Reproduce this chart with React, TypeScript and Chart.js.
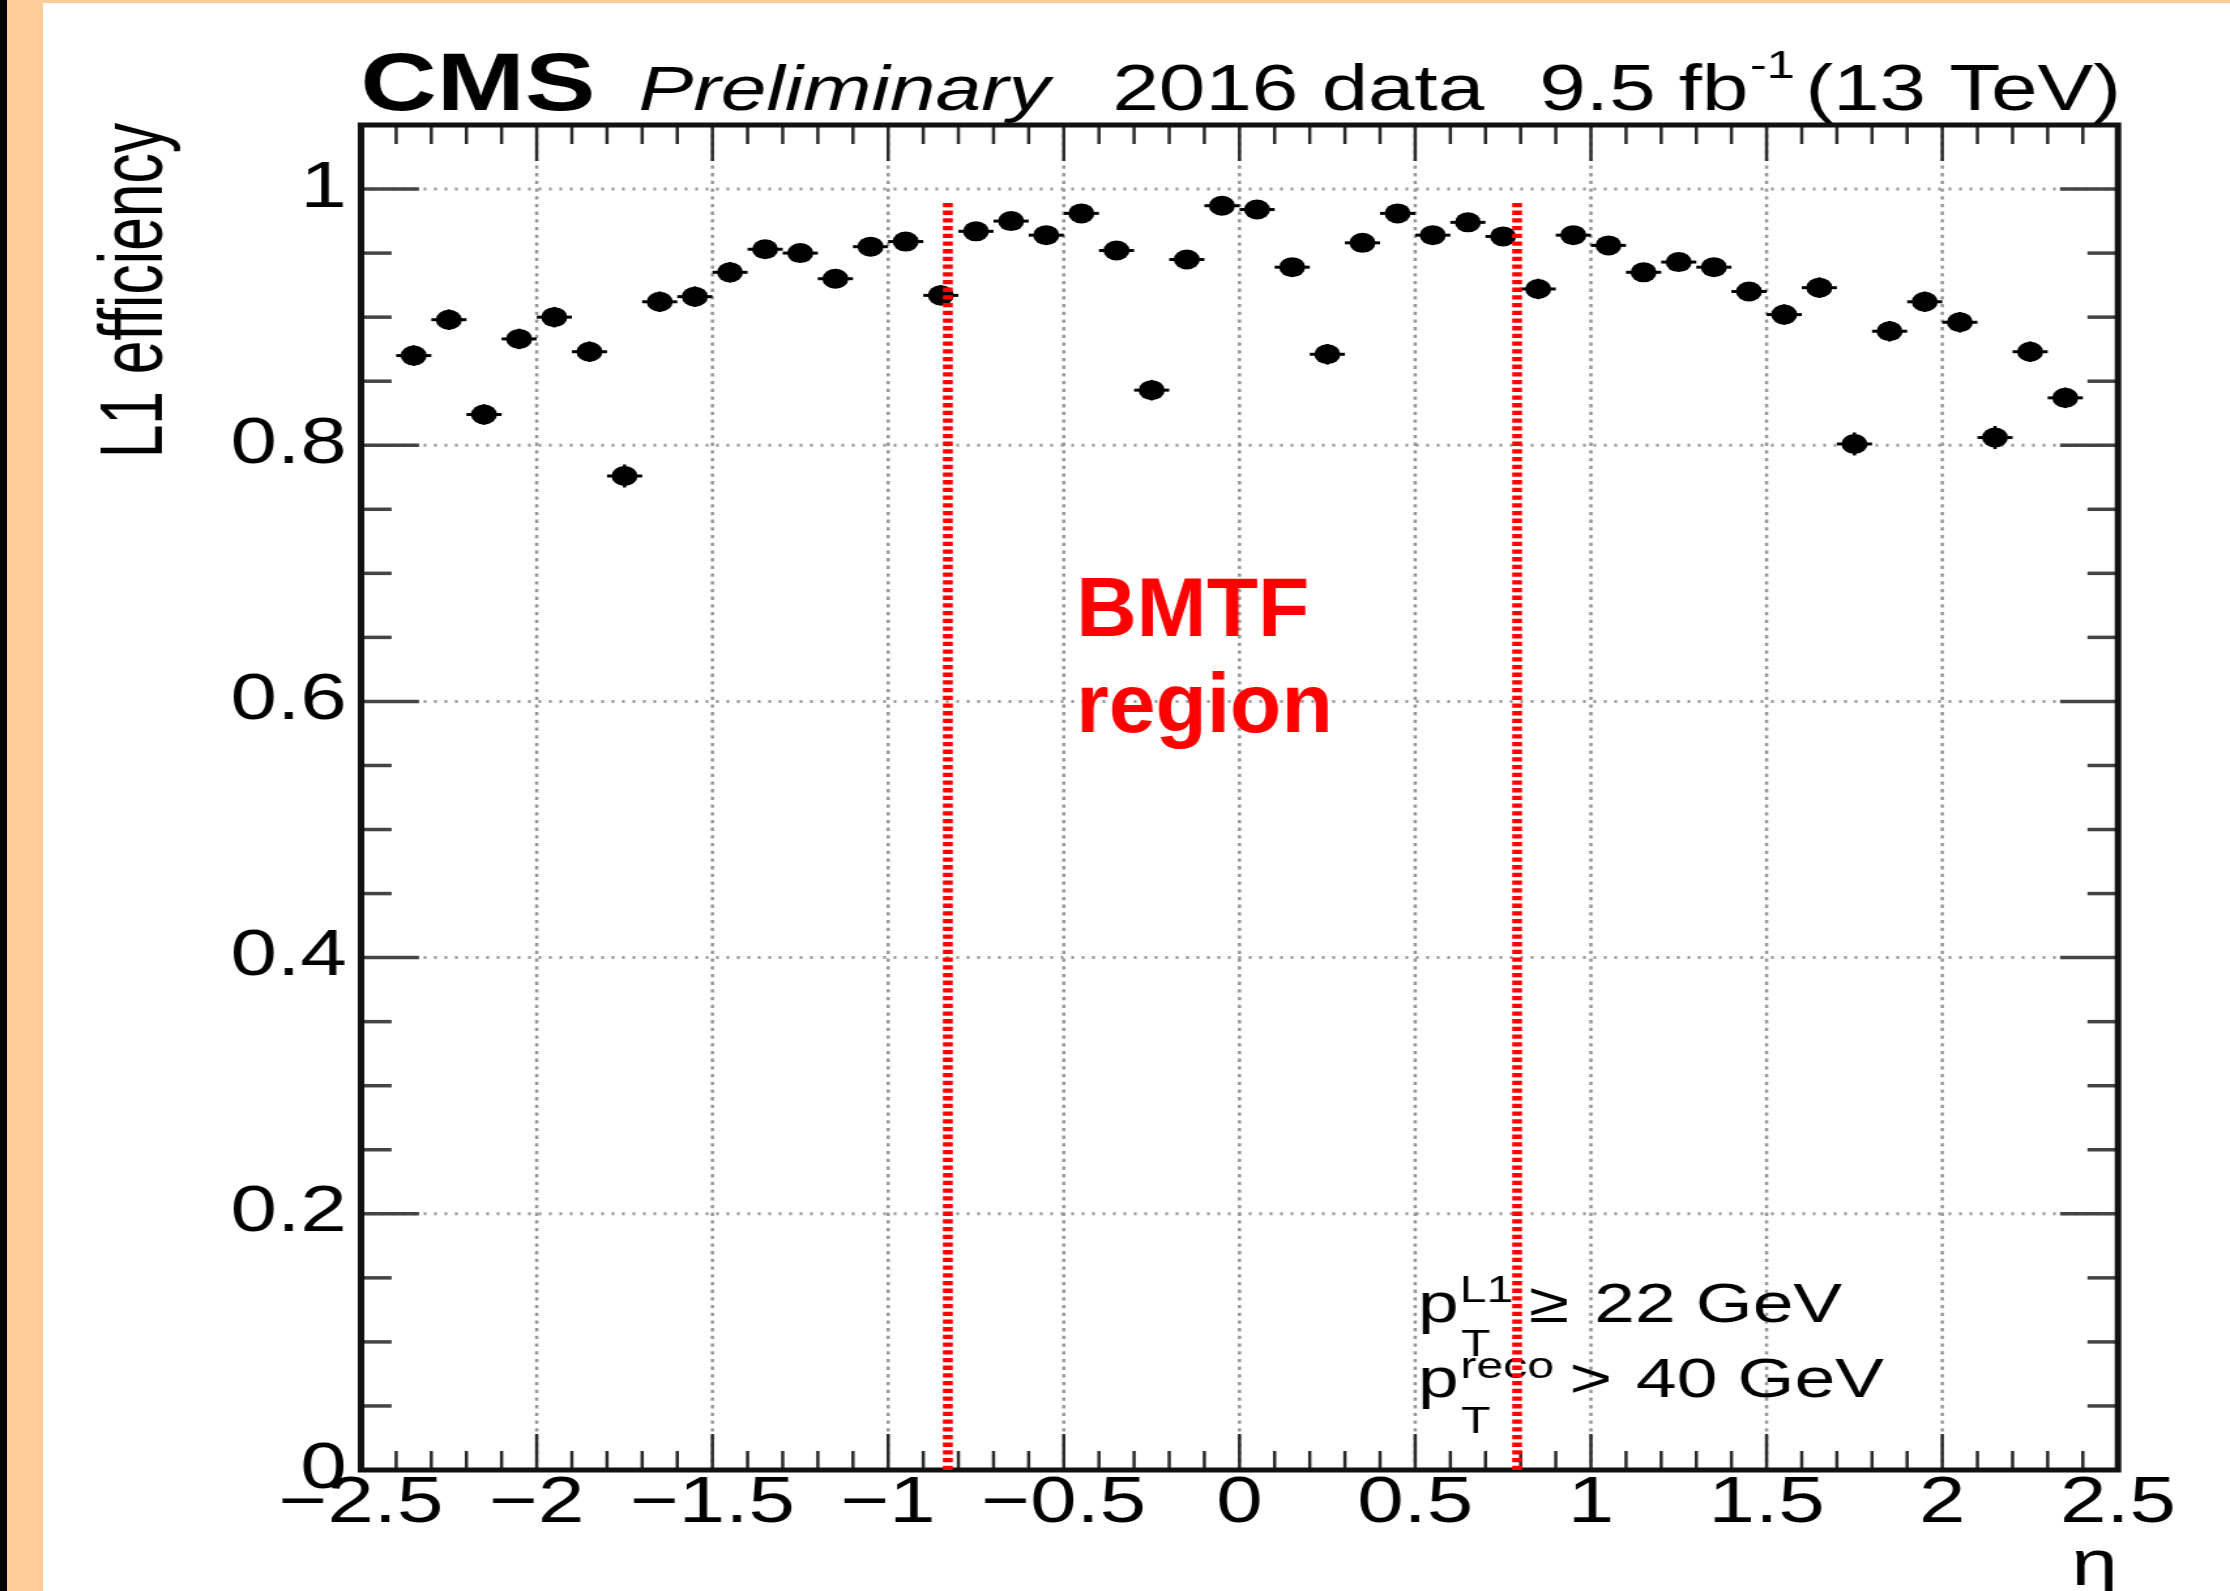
import React, { useEffect, useRef } from 'react';
import { Chart, registerables } from 'chart.js';

Chart.register(...registerables);

// ---------------- data ----------------
const etaBinCenters = [
  -2.35, -2.25, -2.15, -2.05, -1.95, -1.85, -1.75, -1.65, -1.55, -1.45, -1.35, -1.25,
  -1.15, -1.05, -0.95, -0.85, -0.75, -0.65, -0.55, -0.45, -0.35, -0.25, -0.15, -0.05,
  0.05, 0.15, 0.25, 0.35, 0.45, 0.55, 0.65, 0.75, 0.85, 0.95, 1.05, 1.15, 1.25, 1.35,
  1.45, 1.55, 1.65, 1.75, 1.85, 1.95, 2.05, 2.15, 2.25, 2.35,
];
const l1Efficiency = [
  0.870, 0.898, 0.824, 0.883, 0.900, 0.873, 0.776, 0.912, 0.916, 0.935, 0.953, 0.950,
  0.930, 0.955, 0.959, 0.917, 0.967, 0.975, 0.964, 0.981, 0.952, 0.843, 0.945, 0.987,
  0.984, 0.939, 0.871, 0.958, 0.981, 0.964, 0.974, 0.963, 0.922, 0.964, 0.956, 0.935,
  0.943, 0.939, 0.920, 0.902, 0.923, 0.801, 0.889, 0.912, 0.896, 0.806, 0.873, 0.837,
];
const l1EfficiencyErr = [
  0.008, 0.008, 0.008, 0.008, 0.008, 0.008, 0.009, 0.008, 0.008, 0.008, 0.007, 0.007,
  0.007, 0.007, 0.007, 0.008, 0.007, 0.007, 0.007, 0.007, 0.007, 0.008, 0.007, 0.007,
  0.007, 0.007, 0.008, 0.007, 0.007, 0.007, 0.007, 0.007, 0.008, 0.007, 0.007, 0.007,
  0.007, 0.007, 0.007, 0.008, 0.008, 0.009, 0.008, 0.008, 0.008, 0.009, 0.008, 0.008,
];
const etaBinHalfWidth = 0.05;
const bmtfBoundaries = [-0.83, 0.79];
const bmtfLineTop = 0.99;

const xRange = [-2.5, 2.5];
const yRange = [0, 1.05];
const xMajorStep = 0.5;
const xMinorStep = 0.1;
const yMajorStep = 0.2;
const yMinorStep = 0.05;

const yTitle = 'L1 efficiency';
const xTitle = 'η';

// ---------------- layout / style ----------------
const FULL_W = 2230;
const FULL_H = 1591;
const CANVAS_W = 1708;
const STRETCH = FULL_W / CANVAS_W;
const FONT = '"Liberation Sans", Arial, Helvetica, sans-serif';

const fmtTick = (v: number) => {
  const r = Math.round(v * 100) / 100;
  return r < 0 ? '\u2212' + String(Math.abs(r)) : String(r);
};

const isMultiple = (v: number, step: number) =>
  Math.abs(v / step - Math.round(v / step)) < 1e-6;

const line = (ctx: CanvasRenderingContext2D, x1: number, y1: number, x2: number, y2: number) => {
  ctx.beginPath();
  ctx.moveTo(x1, y1);
  ctx.lineTo(x2, y2);
  ctx.stroke();
};

const rootStylePlugin = {
  id: 'rootStyle',
  beforeDatasetsDraw(chart: any) {
    const { ctx, chartArea: a, scales } = chart;
    const xs = scales.x;
    const ys = scales.y;
    ctx.save();

    // dotted grid
    ctx.strokeStyle = '#979797';
    ctx.lineWidth = 2.5;
    ctx.setLineDash([3.3, 4.4]);
    xs.ticks.forEach((t: any) => {
      if (t.value <= xs.min + 1e-9 || t.value >= xs.max - 1e-9) return;
      const px = xs.getPixelForValue(t.value);
      line(ctx, px, a.bottom, px, a.top);
    });
    ctx.lineWidth = 3;
    ctx.setLineDash([2, 6]);
    ys.ticks.forEach((t: any) => {
      if (t.value <= ys.min + 1e-9 || t.value >= ys.max - 1e-9) return;
      const py = ys.getPixelForValue(t.value);
      line(ctx, a.left, py, a.right, py);
    });
    ctx.setLineDash([]);

    // inner ticks on x (bottom & top)
    ctx.strokeStyle = '#2a2a2a';
    ctx.lineWidth = 2.5;
    const nx0 = Math.round(xs.min / xMinorStep);
    const nx1 = Math.round(xs.max / xMinorStep);
    for (let n = nx0 + 1; n < nx1; n++) {
      const v = n * xMinorStep;
      const len = isMultiple(v, xMajorStep) ? 36 : 19;
      const px = xs.getPixelForValue(v);
      line(ctx, px, a.bottom, px, a.bottom - len);
      line(ctx, px, a.top, px, a.top + len);
    }
    // inner ticks on y (left & right)
    ctx.strokeStyle = '#444';
    ctx.lineWidth = 3.5;
    const ny0 = Math.round(ys.min / yMinorStep);
    const ny1 = Math.floor(ys.max / yMinorStep + 1e-6);
    for (let n = ny0 + 1; n <= ny1; n++) {
      const v = n * yMinorStep;
      if (v >= ys.max - 1e-9) continue;
      const len = isMultiple(v, yMajorStep) ? 44.4 : 23.4;
      const py = ys.getPixelForValue(v);
      line(ctx, a.left, py, a.left + len, py);
      line(ctx, a.right, py, a.right - len, py);
    }

    // frame
    ctx.strokeStyle = '#111';
    ctx.lineWidth = 5;
    ctx.strokeRect(a.left, a.top, a.right - a.left, a.bottom - a.top);

    // error bars
    ctx.strokeStyle = '#000';
    etaBinCenters.forEach((eta, i) => {
      const px = xs.getPixelForValue(eta);
      const py = ys.getPixelForValue(l1Efficiency[i]);
      ctx.lineWidth = 3;
      line(ctx, xs.getPixelForValue(eta - etaBinHalfWidth), py, xs.getPixelForValue(eta + etaBinHalfWidth), py);
      ctx.lineWidth = 2.5;
      line(
        ctx,
        px,
        ys.getPixelForValue(l1Efficiency[i] - l1EfficiencyErr[i]),
        px,
        ys.getPixelForValue(l1Efficiency[i] + l1EfficiencyErr[i]),
      );
    });
    ctx.restore();
  },
  afterDatasetsDraw(chart: any) {
    const { ctx, scales } = chart;
    const xs = scales.x;
    const ys = scales.y;
    ctx.save();
    ctx.textBaseline = 'alphabetic';
    ctx.textAlign = 'left';
    ctx.fillStyle = '#000';

    // header
    ctx.font = `bold 81px ${FONT}`;
    ctx.fillText('CMS', 276, 110);
    ctx.font = `italic 63px ${FONT}`;
    ctx.fillText('Preliminary', 489, 110);
    ctx.font = `64px ${FONT}`;
    ctx.fillText('2016 data', 852, 110);
    ctx.fillText('9.5 fb', 1179, 110);
    const wFb = ctx.measureText('9.5 fb').width;
    ctx.font = `39px ${FONT}`;
    ctx.fillText('-1', 1179 + wFb + 1, 78);
    ctx.font = `64px ${FONT}`;
    ctx.textAlign = 'right';
    ctx.fillText('(13 TeV)', 1624.5, 110);

    // y title (rotated)
    ctx.save();
    ctx.translate(123.8, 123);
    ctx.rotate(-Math.PI / 2);
    ctx.scale(0.89, 1);
    ctx.font = `68px ${FONT}`;
    ctx.textAlign = 'right';
    ctx.fillText(yTitle, 0, 0);
    ctx.restore();

    // pT cuts
    ctx.textAlign = 'left';
    ctx.font = `56px ${FONT}`;
    ctx.fillText('p', 1086, 1321.7);
    ctx.fillText('\u2265', 1171, 1321.7);
    ctx.fillText('22 GeV', 1221, 1321.7);
    ctx.fillText('p', 1086, 1396.7);
    ctx.fillText('>', 1202, 1396.7);
    ctx.fillText('40 GeV', 1253, 1396.7);
    ctx.font = `37px ${FONT}`;
    ctx.fillText('L1', 1118, 1301.7);
    ctx.fillText('T', 1119, 1356);
    ctx.fillText('reco', 1118.4, 1378.3);
    ctx.fillText('T', 1119, 1432.7);

    // BMTF region label (not stretched)
    ctx.save();
    ctx.scale(1 / STRETCH, 1);
    ctx.font = `bold 84px ${FONT}`;
    ctx.fillStyle = '#ff0000';
    ctx.fillText('BMTF', 1076, 636);
    ctx.fillText('region', 1076, 732);
    ctx.restore();

    // BMTF boundaries
    ctx.strokeStyle = '#ff0000';
    ctx.lineWidth = 7.5;
    ctx.setLineDash([4.3, 3.4]);
    bmtfBoundaries.forEach((eta) => {
      const px = xs.getPixelForValue(eta);
      line(ctx, px, ys.getPixelForValue(0), px, ys.getPixelForValue(bmtfLineTop));
    });
    ctx.restore();
  },
};

export default function App() {
  const canvasRef = useRef<HTMLCanvasElement | null>(null);

  useEffect(() => {
    const canvas = canvasRef.current;
    if (!canvas) return;
    const chart = new Chart(canvas, {
      type: 'scatter',
      data: {
        datasets: [
          {
            label: 'L1 efficiency',
            data: etaBinCenters.map((x, i) => ({ x, y: l1Efficiency[i] })),
            pointRadius: 10,
            pointHoverRadius: 10,
            pointBackgroundColor: '#000',
            pointBorderWidth: 0,
            pointStyle: 'circle',
            showLine: false,
          },
        ],
      },
      options: {
        responsive: false,
        animation: false,
        devicePixelRatio: 1,
        events: [],
        layout: { padding: { left: 0, right: CANVAS_W - 1622.2, top: 125, bottom: 0 } },
        plugins: { legend: { display: false }, tooltip: { enabled: false } },
        scales: {
          x: {
            type: 'linear',
            min: xRange[0],
            max: xRange[1],
            grid: { display: false, drawTicks: false },
            border: { display: false },
            ticks: {
              stepSize: xMajorStep,
              autoSkip: false,
              maxRotation: 0,
              minRotation: 0,
              padding: 2,
              color: '#000',
              font: { family: FONT, size: 64, lineHeight: 1 },
              callback: (v: any) => fmtTick(Number(v)),
            },
            title: {
              display: true,
              text: xTitle,
              align: 'end',
              color: '#000',
              font: { family: FONT, size: 64, lineHeight: 0.6 },
              padding: { top: 0, bottom: 4 },
            },
            afterFit: (s: any) => {
              s.height = 121;
            },
          },
          y: {
            type: 'linear',
            min: yRange[0],
            max: yRange[1],
            grid: { display: false, drawTicks: false },
            border: { display: false },
            ticks: {
              stepSize: yMajorStep,
              includeBounds: false,
              autoSkip: false,
              padding: 11,
              color: '#000',
              font: { family: FONT, size: 64, lineHeight: 1 },
              callback: (v: any) => fmtTick(Number(v)),
            },
            afterFit: (s: any) => {
              s.width = 276.5;
            },
          },
        },
      },
      plugins: [rootStylePlugin],
    } as any);
    return () => chart.destroy();
  }, []);

  return (
    <div
      style={{
        position: 'absolute',
        left: 0,
        top: 0,
        width: FULL_W,
        height: FULL_H,
        background: '#ffffff',
        overflow: 'hidden',
      }}
    >
      <div style={{ position: 'absolute', left: 0, top: 0, width: CANVAS_W, height: FULL_H, transform: `scaleX(${STRETCH})`, transformOrigin: '0 0' }}>
        <canvas ref={canvasRef} width={CANVAS_W} height={FULL_H} style={{ display: 'block' }} />
      </div>
      <div style={{ position: 'absolute', left: 0, top: 0, width: FULL_W, height: 3, background: '#FFCC99' }} />
      <div style={{ position: 'absolute', left: 0, top: 0, width: 7, height: FULL_H, background: '#000' }} />
      <div style={{ position: 'absolute', left: 7, top: 0, width: 36, height: FULL_H, background: '#FFCC99' }} />
    </div>
  );
}
